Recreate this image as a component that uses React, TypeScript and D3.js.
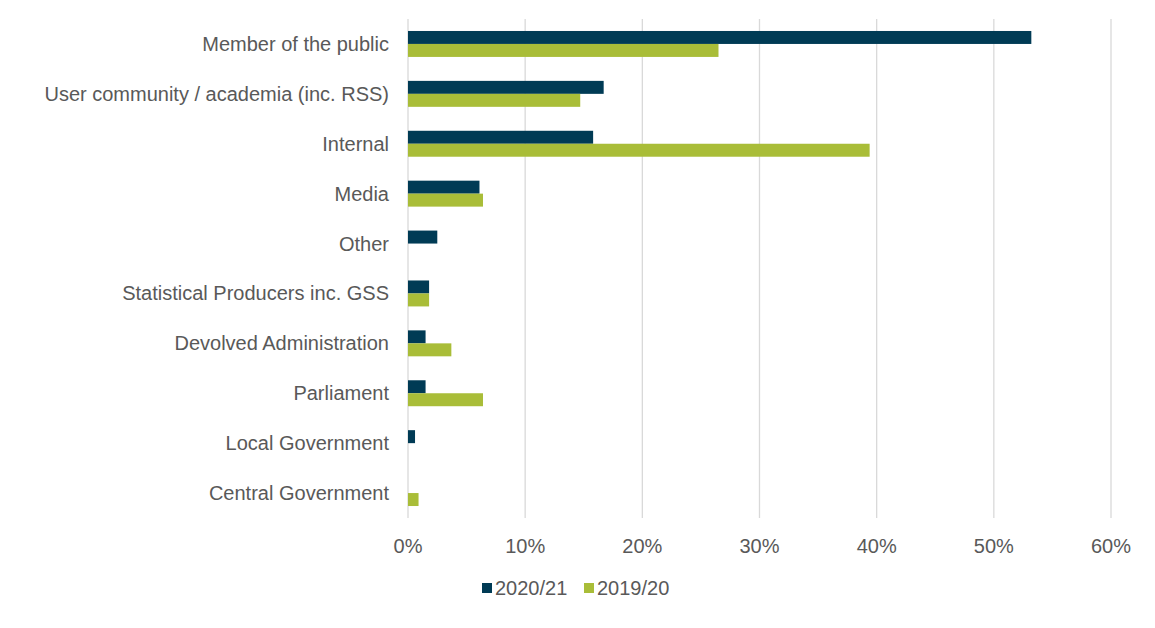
import * as d3 from 'd3';

const categories = [
  'Member of the public',
  'User community / academia (inc. RSS)',
  'Internal',
  'Media',
  'Other',
  'Statistical Producers inc. GSS',
  'Devolved Administration',
  'Parliament',
  'Local Government',
  'Central Government',
];
const series2021 = [53.2, 16.7, 15.8, 6.1, 2.5, 1.8, 1.5, 1.5, 0.6, 0];
const series1920 = [26.5, 14.7, 39.4, 6.4, 0, 1.8, 3.7, 6.4, 0, 0.9];
const xTicks = [0, 10, 20, 30, 40, 50, 60];
const seriesNames = ['2020/21', '2019/20'];
const colors = ['#003b55', '#a9bd38'];

export default function App() {
  const W = 1155, H = 628;
  const left = 408, right = 1111, top = 19, bottom = 518;
  const x = d3.scaleLinear().domain([0, 60]).range([left, right]);
  const y = d3.scaleBand().domain(categories).range([top, bottom]).paddingInner(0.48).paddingOuter(0.24);
  const bh = y.bandwidth() / 2;
  const font = 'Liberation Sans, Arial, sans-serif';
  const txt = '#595959';
  return (
    <svg width={W} height={H} style={{ position: 'absolute', left: 0, top: 0, background: '#fff' }} fontFamily={font}>
      {xTicks.map(t => (
        <g key={t}>
          <line x1={x(t)} x2={x(t)} y1={top} y2={bottom} stroke="#d9d9d9" strokeWidth={1.3} />
          <text x={x(t)} y={553} textAnchor="middle" fontSize={20} fill={txt}>{t}%</text>
        </g>
      ))}
      {categories.map((c, i) => (
        <g key={c}>
          <text x={389} y={y(c)! + bh + 7} textAnchor="end" fontSize={20} fill={txt}>{c}</text>
          {series2021[i] > 0 && <rect x={x(0)} y={y(c)!} width={x(series2021[i]) - x(0)} height={bh} fill={colors[0]} />}
          {series1920[i] > 0 && <rect x={x(0)} y={y(c)! + bh} width={x(series1920[i]) - x(0)} height={bh} fill={colors[1]} />}
        </g>
      ))}
      {seriesNames.map((s, i) => (
        <g key={s} transform={`translate(${482 + i * 102},583)`}>
          <rect x={0} y={0} width={10} height={10} fill={colors[i]} />
          <text x={13} y={12} fontSize={20} fill={txt}>{s}</text>
        </g>
      ))}
    </svg>
  );
}
